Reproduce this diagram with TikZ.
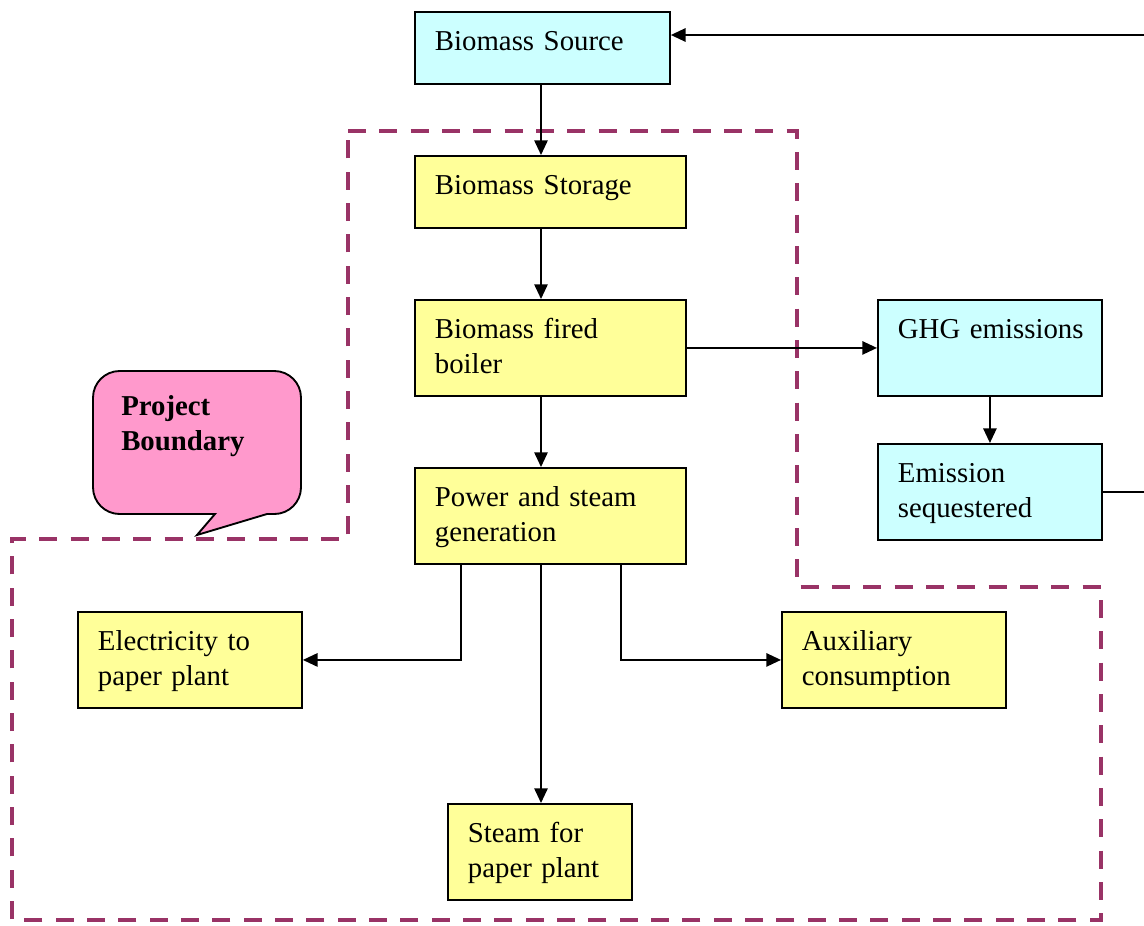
\documentclass[tikz,border=0pt]{standalone}
\usepackage{fontspec}
\setmainfont{Liberation Serif}
\usepackage{tikz}
\usetikzlibrary{arrows.meta,calc}
\definecolor{boxcyan}{HTML}{CCFFFF}
\definecolor{boxyellow}{HTML}{FFFF99}
\definecolor{boundcol}{HTML}{993366}
\definecolor{calloutpink}{HTML}{FF99CC}
\tikzset{
  box/.style={draw, line width=1.4pt, anchor=north west, align=left,
    inner xsep=15pt, inner ysep=0pt, text height=29.25pt},
  cyanbox/.style={box, fill=boxcyan},
  yellowbox/.style={box, fill=boxyellow},
  shortbox/.style={text depth=24.75pt},
  tallbox/.style={text depth=42.75pt},
  flow/.style={-{Triangle[length=11pt,width=10pt]}, line width=1.3pt},
  boundary/.style={draw=boundcol, line width=3.4pt, dash pattern=on 13.5pt off 10pt},
}

\begin{document}
\begin{tikzpicture}[x=0.75pt, y=-0.75pt,
    every node/.style={font=\fontsize{21.6}{26.25}\selectfont}]
      \useasboundingbox (0,0) rectangle (1144,925);

      % project boundary
      \draw[boundary] (348,131) -- (797,131) -- (797,587) -- (1101,587)
        -- (1101,920) -- (12,920) -- (12,539) -- (348,539) -- cycle;

      % callout
      \draw[fill=calloutpink, line width=1.4pt] (200,371)
        [rounded corners=20pt] -- (93,371) -- (93,514)
        [sharp corners] -- (215,514) -- (197,535) -- (267,514)
        [rounded corners=20pt] -- (301,514) -- (301,371) -- cycle;
      \node[anchor=north west, inner sep=0pt, align=left,
        font=\fontsize{21.6}{26.25}\selectfont\bfseries] at (121,395) (boundarylabel) {Project\\Boundary};

      \node[cyanbox, shortbox, text width=161.25pt] at (414,11) (source) {\mbox{Biomass Source}};
      \node[yellowbox, shortbox, text width=173.25pt] at (414,155) (storage) {\mbox{Biomass Storage}};
      \node[yellowbox, tallbox, text width=173.25pt] at (414,299) (boiler) {Biomass fired\\boiler};
      \node[yellowbox, tallbox, text width=173.25pt] at (414,467) (power) {Power and steam\\generation};
      \node[cyanbox, tallbox, text width=138pt] at (877,299) (ghg) {\mbox{GHG emissions}};
      \node[cyanbox, tallbox, text width=138pt] at (877,443) (seq) {Emission\\sequestered};
      \node[yellowbox, tallbox, text width=138pt] at (77,611) (elec) {Electricity to\\paper plant};
      \node[yellowbox, tallbox, text width=138pt] at (781,611) (aux) {Auxiliary\\consumption};
      \node[yellowbox, tallbox, text width=108pt] at (447,803) (steam) {Steam for\\paper plant};

      \coordinate (spine) at (541,0);
      \coordinate (lbranch) at (461,0);
      \coordinate (rbranch) at (621,0);
      \coordinate (entr) at (1144,35);
      \coordinate (exitr) at (1144,491);

      \draw[flow] (spine |- source.south) -- (spine |- storage.north);
      \draw[flow] (spine |- storage.south) -- (spine |- boiler.north);
      \draw[flow] (spine |- boiler.south) -- (spine |- power.north);
      \draw[flow] (boiler.east) -- (ghg.west);
      \draw[flow] (ghg.south) -- (seq.north);
      \draw[line width=1.3pt] (seq.east) -- (seq.east -| exitr);
      \draw[flow] (entr) -- (entr -| source.east);
      \draw[flow] (lbranch |- power.south) |- (elec.east);
      \draw[flow] (rbranch |- power.south) |- (aux.west);
      \draw[flow] (spine |- power.south) -- (spine |- steam.north);
\end{tikzpicture}
\end{document}
